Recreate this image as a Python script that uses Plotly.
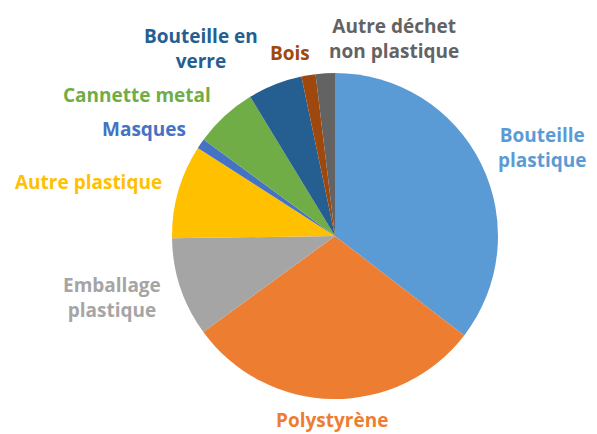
import plotly.graph_objects as go

labels = ["Bouteille<br>plastique", "Polystyrène", "Emballage<br>plastique", "Autre plastique",
          "Masques", "Cannette metal", "Bouteille en<br>verre", "Bois", "Autre déchet<br>non plastique"]
values = [35.4, 29.5, 9.8, 9.3, 1.0, 6.2, 5.4, 1.4, 1.9]
colors = ["#5B9BD5", "#ED7D31", "#A5A5A5", "#FFC000", "#4472C4", "#70AD47", "#255E91", "#9E480E", "#636363"]

# label placement (pixel centres in the browser window)
label_px = [(542, 147), (332, 420), (112, 297), (88, 182), (144, 129),
            (137, 95), (201, 49), (290, 53), (394, 39)]

OFF = 8  # default page body margin
W, H = 597 - OFF, 434 - OFF
ML, MT = 172 - OFF, 73 - OFF
PW = PH = 326
MR, MB = W - ML - PW, H - MT - PH

fig = go.Figure(go.Pie(
    labels=labels, values=values, sort=False, direction="clockwise", rotation=0,
    marker=dict(colors=colors, line=dict(width=0)),
    textinfo="none", showlegend=False, hoverinfo="label+value",
))

for lab, col, (px, py) in zip(labels, colors, label_px):
    fig.add_annotation(
        text=lab, xref="paper", yref="paper",
        x=(px - OFF - ML) / PW, y=1 - (py - OFF - MT) / PH,
        xanchor="center", yanchor="middle", showarrow=False, align="center",
        font=dict(family="Open Sans", size=19, color=col, weight="bold"),
    )

fig.update_layout(
    width=W, height=H,
    margin=dict(l=ML, r=MR, t=MT, b=MB),
    paper_bgcolor="white", plot_bgcolor="white",
)
fig.write_html("out.html")
